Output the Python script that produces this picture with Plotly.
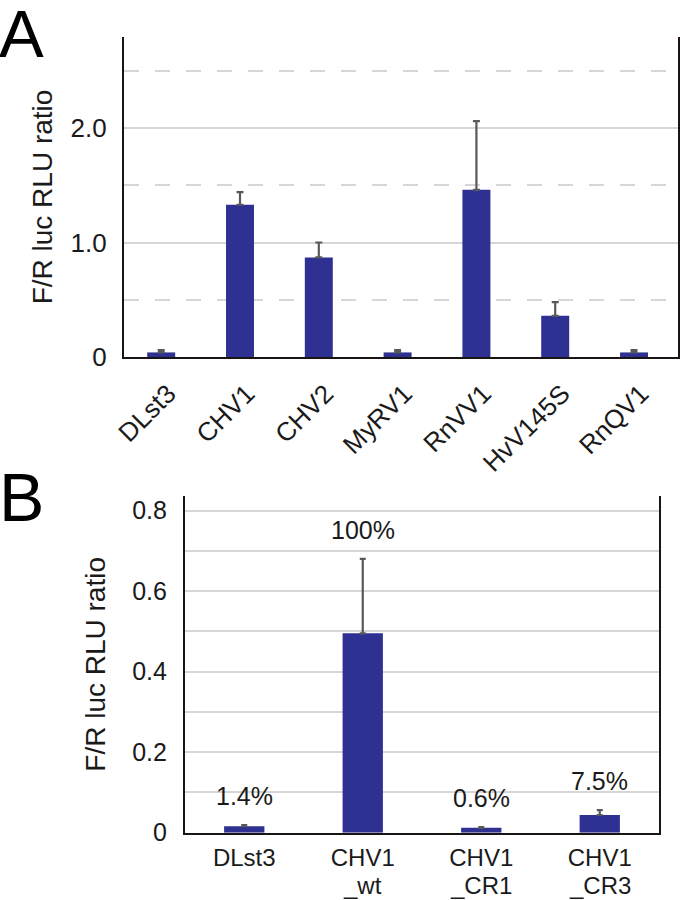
import plotly.graph_objects as go

# ---------------- data ----------------
a_categories = ["DLst3", "CHV1", "CHV2", "MyRV1", "RnVV1", "HvV145S", "RnQV1"]
a_values = [0.04, 1.33, 0.87, 0.04, 1.46, 0.36, 0.04]
a_errors = [0.02, 0.11, 0.13, 0.02, 0.60, 0.12, 0.02]
a_major_ticks = [0, 1, 2]
a_major_labels = ["0", "1.0", "2.0"]
a_dashed_grid = [0.5, 1.5, 2.5]

b_categories = ["DLst3", "CHV1_wt", "CHV1_CR1", "CHV1_CR3"]
b_tick_line1 = ["DLst3", "CHV1", "CHV1", "CHV1"]
b_tick_line2 = ["", "_wt", "_CR1", "_CR3"]
b_values = [0.016, 0.495, 0.012, 0.044]
b_errors = [0.003, 0.185, 0.002, 0.012]
b_pct_labels = ["1.4%", "100%", "0.6%", "7.5%"]
b_major_ticks = [0, 0.2, 0.4, 0.6, 0.8]
b_major_labels = ["0", "0.2", "0.4", "0.6", "0.8"]
b_minor_grid = [0.1, 0.3, 0.5, 0.7]

# ---------------- style ----------------
FONT = "Liberation Sans, Arial, Helvetica, sans-serif"
BAR = "#2E3192"
ERR = "#595959"
AXIS = "#1a1414"
GRID = "#d6d6d6"
TXT = "#1a1a1a"
W, H = 680, 900


def px_x(p):
    return p / W


def px_y(p):
    return 1 - p / H


fig = go.Figure()

fig.add_trace(go.Bar(
    x=a_categories, y=a_values,
    error_y=dict(type="data", array=a_errors, symmetric=False, arrayminus=[0] * len(a_errors),
                 color=ERR, thickness=2.2, width=3.5),
    marker=dict(color=BAR, line=dict(width=0)),
    width=0.355, xaxis="x", yaxis="y", showlegend=False,
))

fig.add_trace(go.Bar(
    x=b_categories, y=b_values,
    error_y=dict(type="data", array=b_errors, symmetric=False, arrayminus=[0] * len(b_errors),
                 color=ERR, thickness=2.2, width=3),
    marker=dict(color=BAR, line=dict(width=0)),
    width=0.34, xaxis="x2", yaxis="y2", showlegend=False,
))

annotations = [
    dict(text="A", x=px_x(-3), y=px_y(-6), xref="paper", yref="paper",
         xanchor="left", yanchor="top", showarrow=False,
         font=dict(family=FONT, size=67, color="black")),
    dict(text="B", x=px_x(-3), y=px_y(457), xref="paper", yref="paper",
         xanchor="left", yanchor="top", showarrow=False,
         font=dict(family=FONT, size=68, color="black")),
]
for cat, v, e, t in zip(b_categories, b_values, b_errors, b_pct_labels):
    annotations.append(dict(
        text=t, x=cat, y=v + e, xref="x2", yref="y2",
        xanchor="center", yanchor="middle", yshift=29, showarrow=False,
        font=dict(family=FONT, size=25, color=TXT),
    ))
for cat, t in zip(b_categories, b_tick_line2):
    if t:
        annotations.append(dict(
            text=t, x=cat, y=px_y(885), xref="x2", yref="paper",
            xanchor="center", yanchor="middle", showarrow=False,
            font=dict(family=FONT, size=24, color=TXT),
        ))

fig.update_layout(
    width=W, height=H,
    margin=dict(l=0, r=0, t=0, b=0),
    paper_bgcolor="white", plot_bgcolor="white",
    font=dict(family=FONT, color=TXT),
    annotations=annotations,
    xaxis=dict(
        domain=[px_x(124), px_x(678)], anchor="y", automargin=False,
        categoryorder="array", categoryarray=a_categories,
        range=[-0.472, 6.558],
        showline=True, linewidth=2.2, linecolor=AXIS,
        ticks="", tickangle=-45, tickfont=dict(size=26, family=FONT, color=TXT),
        ticklabelstandoff=9, ticklabelshift=7,
        showgrid=False, zeroline=False,
    ),
    yaxis=dict(
        domain=[px_y(357), px_y(37)], anchor="x", automargin=False,
        range=[0, 2.795],
        showline=True, mirror=True, linewidth=2.2, linecolor=AXIS,
        ticks="", tickvals=a_major_ticks, ticktext=a_major_labels,
        tickfont=dict(size=26, family=FONT, color=TXT), ticklabelstandoff=10,
        showgrid=True, gridcolor=GRID, gridwidth=2, zeroline=False,
        minor=dict(tickvals=a_dashed_grid, showgrid=True, gridcolor=GRID, gridwidth=2,
                   griddash="15px,16px", ticks=""),
        title=dict(text="F/R luc RLU ratio", font=dict(size=28, family=FONT, color=TXT),
                   standoff=10),
    ),
    xaxis2=dict(
        domain=[px_x(185), px_x(659)], anchor="y2", automargin=False,
        categoryorder="array", categoryarray=b_categories,
        range=[-0.5, len(b_categories) - 0.5],
        tickvals=b_categories, ticktext=b_tick_line1,
        showline=True, linewidth=2.2, linecolor=AXIS,
        ticks="", tickangle=0, tickfont=dict(size=24, family=FONT, color=TXT),
        ticklabelstandoff=2,
        showgrid=False, zeroline=False,
    ),
    yaxis2=dict(
        domain=[px_y(832.7), px_y(496)], anchor="x2", automargin=False,
        range=[0, 0.836],
        showline=True, mirror=True, linewidth=2.2, linecolor=AXIS,
        ticks="", tickvals=b_major_ticks, ticktext=b_major_labels,
        tickfont=dict(size=25, family=FONT, color=TXT), ticklabelstandoff=11,
        showgrid=True, gridcolor=GRID, gridwidth=2, zeroline=False,
        minor=dict(tickvals=b_minor_grid, showgrid=True, gridcolor=GRID, gridwidth=2, ticks=""),
        title=dict(text="F/R luc RLU ratio", font=dict(size=28, family=FONT, color=TXT),
                   standoff=18),
    ),
)

fig.write_html(
    "out.html",
    config={"displayModeBar": False},
    post_script="document.body.style.margin='0';document.body.style.overflow='hidden';",
)
